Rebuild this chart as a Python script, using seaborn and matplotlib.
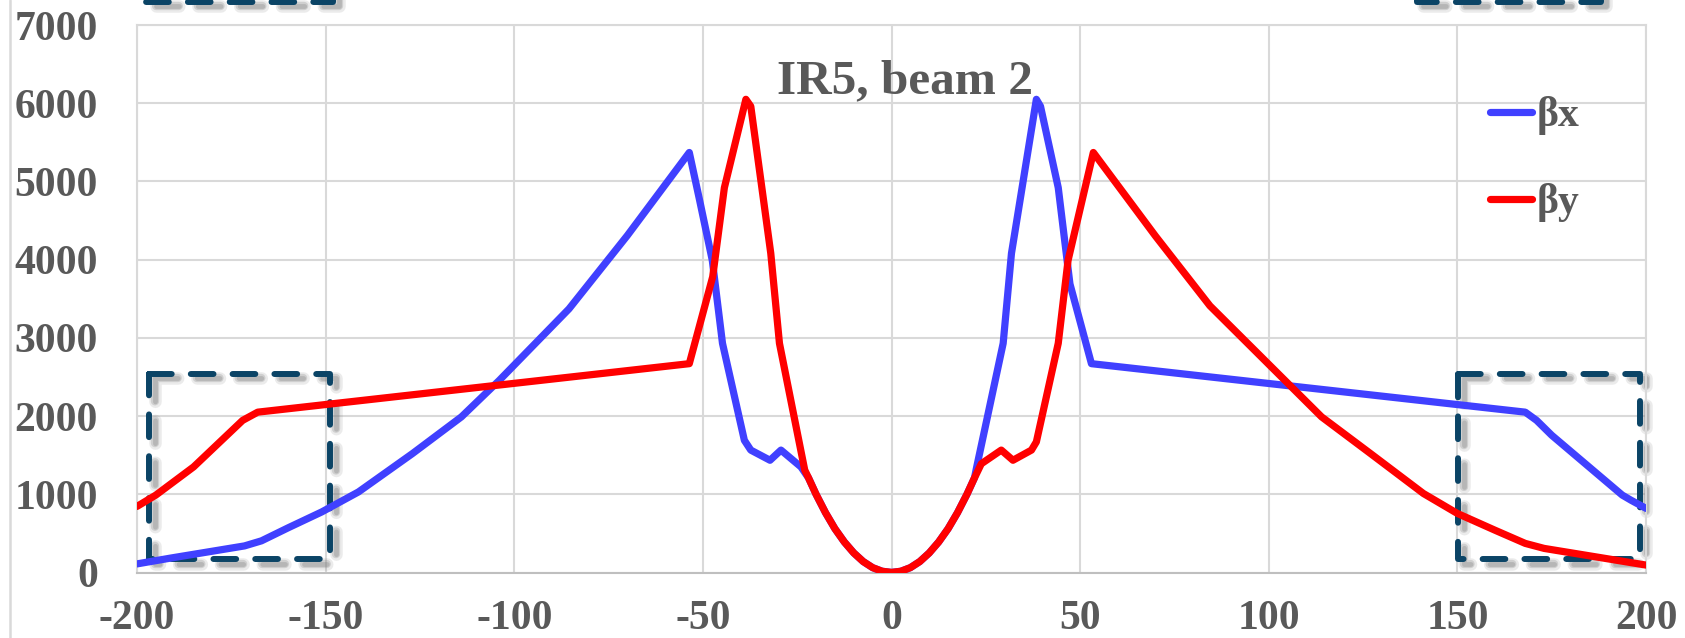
import matplotlib
matplotlib.use("Agg")
import matplotlib.pyplot as plt
import matplotlib.patheffects as pe
from matplotlib.lines import Line2D
import pandas as pd
import seaborn as sns

# Beta functions around IR5 (beam 2), s in metres, beta in metres
s_bx = [-200, -191, -171.5, -167, -160, -151, -141.3, -127, -114, -104, -85.5, -70,
        -53.6, -51, -47.5, -44.8, -39, -37.3, -32.2, -29.3, -24,
        -22, -20, -17.5, -15, -12.5, -10, -7.5, -5, -2.5, 0,
        2.5, 5, 7.5, 10, 12.5, 15, 17.5, 20, 22, 22.5,
        29.6, 31.8, 38.4, 39.5, 44.2, 47.3, 53, 168, 171, 175, 193.7, 196, 200]
beta_x = [110, 185, 340, 405, 570, 775, 1030, 1520, 1990, 2455, 3370, 4310,
          5370, 4790, 3990, 2930, 1690, 1565, 1435, 1565, 1350,
          1210, 1000, 765, 560, 390, 250, 140, 62, 16, 1,
          16, 62, 140, 250, 390, 560, 765, 1000, 1210, 1330,
          2930, 4080, 6050, 5960, 4920, 3690, 2670, 2050, 1945, 1755, 990, 925, 820]

s_by = [-200, -195, -185, -172, -168, -53.6, -47.4, -44.3, -38.6, -37.3, -32, -29.7, -23,
        -22, -20, -17.5, -15, -12.5, -10, -7.5, -5, -2.5, 0,
        2.5, 5, 7.5, 10, 12.5, 15, 17.5, 20, 22,
        23.8, 29.1, 32.2, 37.1, 38.4, 44.2, 46.8, 53.5, 70, 84.4, 114, 127, 141, 150,
        160, 168, 173, 200]
beta_y = [845, 990, 1350, 1945, 2050, 2670, 3780, 4920, 6050, 5960, 4080, 2930, 1310,
          1210, 1000, 765, 560, 390, 250, 140, 62, 16, 1,
          16, 62, 140, 250, 390, 560, 765, 1000, 1210,
          1390, 1565, 1435, 1565, 1670, 2930, 3990, 5370, 4300, 3410, 1990, 1520, 1010, 755,
          540, 372, 308, 95]

labels = ["βx", "βy"]
colors = ["#4040FF", "#FF0000"]

x_ticks = [-200, -150, -100, -50, 0, 50, 100, 150, 200]
y_ticks = [0, 1000, 2000, 3000, 4000, 5000, 6000, 7000]

# Highlighted regions (x0, x1, y0, y1)
boxes = [(-196.8, -148.8, 168, 2540), (150.2, 198.4, 168, 2537),
         (-197.7, -148.0, 7300, 9800), (139.3, 188.0, 7300, 9800)]

title = "IR5, beam 2"

sns.set_theme(style="whitegrid")
plt.rcParams["font.family"] = ["Liberation Serif", "DejaVu Serif"]
plt.rcParams["axes.unicode_minus"] = False

text_color = "#595959"
grid_color = "#D9D9D9"

df = pd.concat([
    pd.DataFrame({"s": s_bx, "beta": beta_x, "plane": labels[0]}),
    pd.DataFrame({"s": s_by, "beta": beta_y, "plane": labels[1]}),
], ignore_index=True)

fig = plt.figure(figsize=(16.85, 6.38), dpi=100)
ax = fig.add_axes([137 / 1685, 1 - 572.5 / 638, (1646 - 137) / 1685, (572.5 - 25) / 638])

sns.lineplot(data=df, x="s", y="beta", hue="plane", hue_order=labels,
             palette=dict(zip(labels, colors)), estimator=None, sort=False,
             linewidth=5.2, ax=ax, zorder=3)
for ln in ax.lines:
    ln.set_solid_capstyle("round")
    ln.set_solid_joinstyle("round")

# dashed frames with a soft drop shadow
shadow = [
    pe.SimpleLineShadow(offset=(4, -3), shadow_color="#7f7f7f", alpha=0.15, linewidth=9),
    pe.SimpleLineShadow(offset=(4, -3), shadow_color="#7f7f7f", alpha=0.25, linewidth=6),
    pe.SimpleLineShadow(offset=(4, -3), shadow_color="#7f7f7f", alpha=0.3, linewidth=3.5),
    pe.Normal(),
]
for x0, x1, y0, y1 in boxes:
    ax.plot([x0, x1, x1, x0, x0], [y1, y1, y0, y0, y1], color="#0B4466", lw=4.3,
            ls=(0, (3.8, 3.2)), clip_on=False, zorder=2, path_effects=shadow,
            solid_capstyle="butt", dash_capstyle="round")

ax.set_xlim(-200, 200)
ax.set_ylim(0, 7000)
ax.set_xticks(x_ticks)
ax.set_xticklabels([str(v) for v in x_ticks])
ax.set_yticks(y_ticks)
ax.set_yticklabels([str(v) for v in y_ticks])
ax.set_xlabel("")
ax.set_ylabel("")

for lab in ax.get_xticklabels() + ax.get_yticklabels():
    lab.set_fontsize(30)
    lab.set_fontweight("bold")
    lab.set_color(text_color)
ax.tick_params(axis="x", length=0, pad=20)
ax.tick_params(axis="y", length=0, pad=28)

ax.grid(True, color=grid_color, linewidth=1.5)
for side in ["top", "right", "left"]:
    ax.spines[side].set_color(grid_color)
    ax.spines[side].set_linewidth(1.5)
ax.spines["bottom"].set_color("#BFBFBF")
ax.spines["bottom"].set_linewidth(1.5)

ax.text(3.5, 6130, title, ha="center", va="baseline", fontsize=35.5,
        fontweight="bold", color=text_color, zorder=5)

leg = ax.legend(loc="upper left", bbox_to_anchor=(0.872, 0.938), frameon=False,
                handlelength=1.0, handletextpad=0.1, labelspacing=1.15,
                prop={"size": 30, "weight": "bold"})
for t in leg.get_texts():
    t.set_color(text_color)
for h in leg.get_lines():
    h.set_linewidth(5.2)
    h.set_solid_capstyle("round")

fig.add_artist(Line2D([9.5 / 1685, 9.5 / 1685], [0, 1], transform=fig.transFigure,
                      color=grid_color, lw=1.8))

fig.savefig("out.png", dpi=100, facecolor="white")
